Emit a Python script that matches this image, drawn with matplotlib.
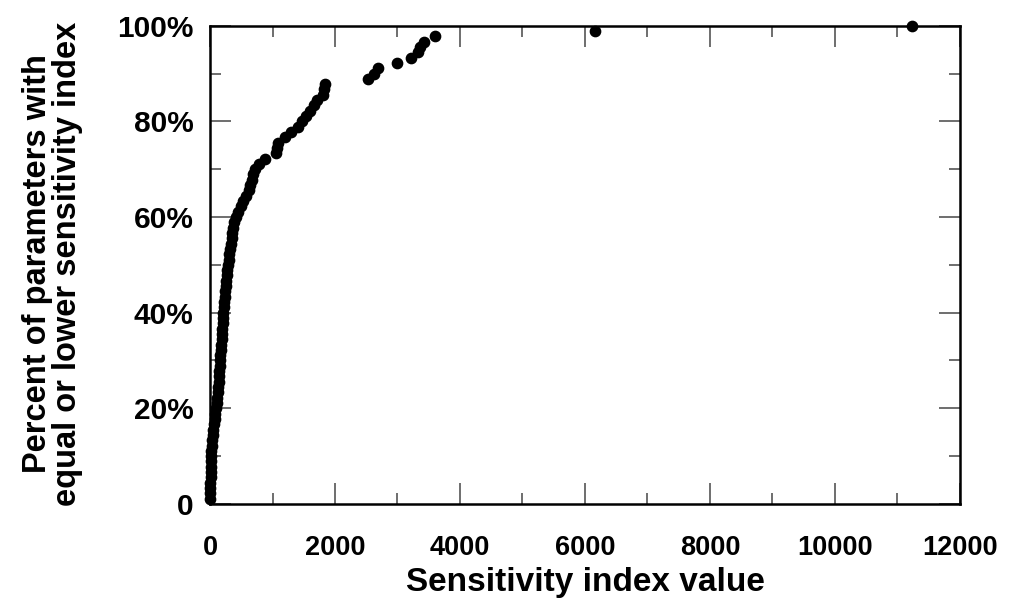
import numpy as np
import matplotlib
matplotlib.use("Agg")
import matplotlib.pyplot as plt
from matplotlib.ticker import MultipleLocator

# sensitivity index value of each parameter, sorted
sens_index = [0, 2, 4, 6, 8,
              10, 12, 15, 18,
              22, 30, 38, 45, 55,
              65, 75, 85, 95,
              105, 115, 125, 132,
              138, 143, 148, 155, 160,
              167, 174, 180, 186, 192, 198, 203, 208, 213,
              220, 228, 236, 244, 252, 260, 268, 278, 285,
              298, 310, 320, 335, 347,
              357, 367, 380, 410,
              450, 490, 533, 575,
              625, 645, 665, 690, 715,
              790, 880, 1050, 1070, 1095, 1200, 1290, 1400, 1470,
              1530, 1600, 1660, 1705, 1800, 1825, 1845,
              2520, 2630, 2690, 2990, 3220, 3330, 3360, 3430, 3605,
              6155, 11232]
n_params = len(sens_index)
pct_rank = [100.0 * (k + 1) / n_params for k in range(n_params)]

x_ticks = [0, 2000, 4000, 6000, 8000, 10000, 12000]
y_ticks = [0, 20, 40, 60, 80, 100]
y_tick_labels = ["0", "20%", "40%", "60%", "80%", "100%"]

plt.rcParams['font.family'] = ['Liberation Sans', 'DejaVu Sans']

fig = plt.figure(figsize=(10.15, 6.04), dpi=100)
ax = fig.add_axes([0.2069, 0.1656, 0.7389, 0.7919])

ax.scatter(sens_index, pct_rank, s=55, color='black', zorder=3, clip_on=False)

ax.set_xlim(0, 12000)
ax.set_ylim(0, 100)
ax.set_xticks(x_ticks)
ax.set_yticks(y_ticks)
ax.set_yticklabels(y_tick_labels)
ax.xaxis.set_minor_locator(MultipleLocator(1000))
ax.yaxis.set_minor_locator(MultipleLocator(10))

ax.tick_params(which='both', direction='in', top=True, right=True,
               color='#555555', width=1.2)
ax.tick_params(which='major', length=15)
ax.tick_params(axis='x', which='major', labelsize=19.5, pad=22)
ax.tick_params(axis='y', which='major', labelsize=21.5, pad=12)
ax.tick_params(which='minor', length=8)
for lab in ax.get_xticklabels() + ax.get_yticklabels():
    lab.set_fontweight('bold')

for s in ax.spines.values():
    s.set_linewidth(1.8)

ax.set_xlabel("Sensitivity index value", fontsize=24, fontweight='bold')
ax.xaxis.set_label_coords(0.5, -0.131)
ax.set_ylabel("Percent of parameters with\nequal or lower sensitivity index",
              fontsize=23.5, fontweight='bold', linespacing=0.95)
ax.yaxis.set_label_coords(-0.170, 0.502)

fig.savefig("out.png", dpi=100)
